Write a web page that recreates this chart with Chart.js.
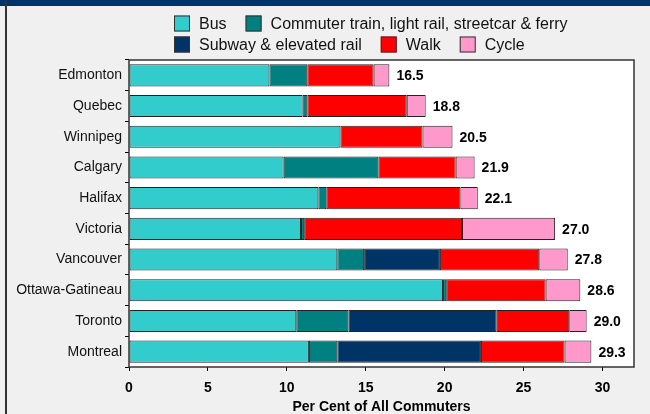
<!DOCTYPE html>
<html>
<head>
<meta charset="utf-8">
<title>Commuters by mode</title>
<script src="https://cdn.jsdelivr.net/npm/chart.js@4.4.1/dist/chart.umd.min.js"></script>
<style>
    html, body { margin: 0; padding: 0; background: #f0f0f0; }
    #wrap { position: relative; width: 650px; height: 414px; overflow: hidden; }
    #wrap canvas { position: absolute; left: 0; top: 0; }
    #top-band { position: absolute; left: 0; top: 0; width: 650px; height: 6px; background: #003366; }
    #left-rule { position: absolute; left: 5px; top: 0; width: 2px; height: 414px; background: #333; }
</style>
</head>
<body>
<div id="wrap">
    <canvas id="commuteChart" width="650" height="414"></canvas>
    <div id="top-band"></div>
    <div id="left-rule"></div>
</div>
<script>
// --- Data (per cent of all commuters) ---
const cities = ['Edmonton', 'Quebec', 'Winnipeg', 'Calgary', 'Halifax',
                'Victoria', 'Vancouver', 'Ottawa-Gatineau', 'Toronto', 'Montreal'];
const bus      = [8.9, 11.0, 13.4, 9.8, 12.0, 10.9, 13.2, 19.9, 10.6, 11.4];
const commuter = [2.4, 0.3, 0.0, 6.0, 0.5, 0.2, 1.7, 0.2, 3.3, 1.8];
const subway   = [0.0, 0.0, 0.0, 0.0, 0.0, 0.0, 4.8, 0.0, 9.4, 9.1];
const walk     = [4.2, 6.3, 5.2, 4.9, 8.5, 10.0, 6.3, 6.3, 4.6, 5.3];
const cycle    = [1.0, 1.2, 1.9, 1.2, 1.1, 5.9, 1.8, 2.2, 1.1, 1.7];
const xTicks   = [0, 5, 10, 15, 20, 25, 30];
const xMax = 32;

const series = [
    { label: 'Bus', values: bus, color: '#33cccc' },
    { label: 'Commuter train, light rail, streetcar & ferry', values: commuter, color: '#008080' },
    { label: 'Subway & elevated rail', values: subway, color: '#003366' },
    { label: 'Walk', values: walk, color: '#ff0000' },
    { label: 'Cycle', values: cycle, color: '#ff99cc' }
];

// legend is laid out on two rows, like the original
const legendRows = [[0, 1], [2, 3, 4]];

const FONT = 'Arial, "Liberation Sans", sans-serif';

// white plot area with a dark frame
const plotFrame = {
    id: 'plotFrame',
    beforeDraw(chart) {
        const { ctx, chartArea: a } = chart;
        ctx.save();
        ctx.fillStyle = '#ffffff';
        ctx.fillRect(a.left, a.top, a.width, a.height);
        ctx.restore();
    },
    afterDatasetsDraw(chart) {
        const { ctx, chartArea: a } = chart;
        ctx.save();
        ctx.strokeStyle = '#333';
        ctx.lineWidth = 1.5;
        ctx.strokeRect(a.left, a.top, a.width, a.height);
        ctx.restore();
    }
};

// total at the end of each bar
const totalLabels = {
    id: 'totalLabels',
    afterDatasetsDraw(chart) {
        const { ctx } = chart;
        const xs = chart.scales.x, ys = chart.scales.y;
        ctx.save();
        ctx.font = 'bold 14px ' + FONT;
        ctx.fillStyle = '#000';
        ctx.textBaseline = 'middle';
        ctx.textAlign = 'left';
        cities.forEach((city, i) => {
            const total = series.reduce((sum, s) => sum + s.values[i], 0);
            ctx.fillText(total.toFixed(1), xs.getPixelForValue(total) + 7, ys.getPixelForValue(i) + 1);
        });
        ctx.restore();
    }
};

// two-row legend, left aligned
const twoRowLegend = {
    id: 'twoRowLegend',
    afterDraw(chart) {
        const { ctx } = chart;
        const box = 16;
        const rowTop = [15.5, 36.5];
        ctx.save();
        ctx.font = '16px ' + FONT;
        ctx.textBaseline = 'middle';
        ctx.textAlign = 'left';
        legendRows.forEach((row, r) => {
            let x = 174;
            row.forEach(i => {
                const ds = chart.data.datasets[i];
                ctx.fillStyle = ds.backgroundColor;
                ctx.fillRect(x, rowTop[r], box, box);
                ctx.strokeStyle = '#333';
                ctx.lineWidth = 1;
                ctx.strokeRect(x + 0.5, rowTop[r] + 0.5, box - 1, box - 1);
                ctx.fillStyle = '#111';
                ctx.fillText(ds.label, x + box + 9, rowTop[r] + box / 2 + 1);
                x += box + 9 + ctx.measureText(ds.label).width + 19;
            });
        });
        ctx.restore();
    }
};

document.addEventListener('DOMContentLoaded', () => {
    const canvas = document.getElementById('commuteChart');
    if (!canvas) return;

    new Chart(canvas, {
        type: 'bar',
        data: {
            labels: cities,
            datasets: series.map(s => ({
                label: s.label,
                data: s.values,
                backgroundColor: s.color,
                borderColor: '#222',
                borderWidth: 1,
                borderSkipped: false,
                barPercentage: 0.72,
                categoryPercentage: 1
            }))
        },
        options: {
            indexAxis: 'y',
            responsive: false,
            animation: false,
            layout: { padding: { top: 60, right: 16, bottom: 0, left: 0 } },
            plugins: {
                legend: { display: false },
                tooltip: { enabled: false }
            },
            scales: {
                x: {
                    stacked: true,
                    min: 0,
                    max: xMax,
                    afterFit: scale => { scale.height = 47; },
                    afterBuildTicks: scale => {
                        scale.ticks = xTicks.map(v => ({ value: v }));
                    },
                    grid: { drawOnChartArea: false, tickLength: 4, color: '#000' },
                    border: { display: false },
                    ticks: {
                        padding: 9,
                        color: '#000',
                        font: { family: FONT, size: 14, weight: 'bold' }
                    },
                    title: {
                        display: true,
                        text: 'Per Cent of All Commuters',
                        color: '#000',
                        padding: 0,
                        font: { family: FONT, size: 14, weight: 'bold', lineHeight: 1.05 }
                    }
                },
                y: {
                    stacked: true,
                    afterFit: scale => { scale.width = 129; },
                    grid: { drawOnChartArea: false, tickLength: 4, color: '#000', offset: true },
                    border: { display: false },
                    ticks: {
                        padding: 3,
                        color: '#111',
                        font: { family: FONT, size: 14 }
                    }
                }
            }
        },
        plugins: [plotFrame, totalLabels, twoRowLegend]
    });
});
</script>
</body>
</html>
